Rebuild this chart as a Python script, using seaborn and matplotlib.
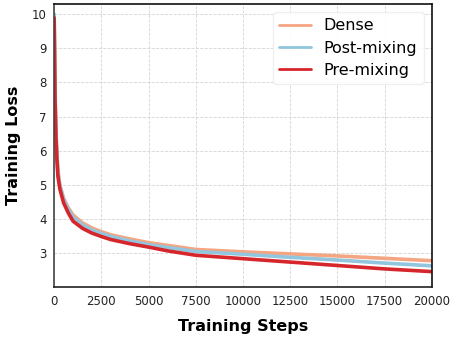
import numpy as np
import pandas as pd
import matplotlib
matplotlib.use('Agg')
import matplotlib.pyplot as plt
import seaborn as sns

# 训练步数及对应损失
steps = [0, 50, 100, 150, 200, 300, 500, 750, 1000, 1500, 2000, 2500, 3000,
         4000, 5000, 6000, 7500, 10000, 12500, 15000, 17500, 20000]
dense = [10.0, 7.6, 6.5, 5.9, 5.4, 5.0, 4.6, 4.32, 4.11, 3.88, 3.73, 3.62, 3.53,
         3.41, 3.30, 3.22, 3.10, 3.03, 2.97, 2.91, 2.84, 2.77]
post_mixing = [10.0, 7.55, 6.45, 5.85, 5.35, 4.97, 4.56, 4.27, 4.05, 3.82, 3.67, 3.57, 3.48,
               3.35, 3.24, 3.16, 3.04, 2.96, 2.87, 2.79, 2.70, 2.62]
pre_mixing = [9.9, 7.4, 6.3, 5.7, 5.25, 4.88, 4.47, 4.17, 3.93, 3.72, 3.58, 3.48, 3.39,
              3.27, 3.17, 3.06, 2.93, 2.83, 2.73, 2.63, 2.53, 2.45]
labels = ['Dense', 'Post-mixing', 'Pre-mixing']
colors = ['#f4a582', '#92c5de', '#d6262b']

df = pd.DataFrame({
    'step': steps * 3,
    'loss': dense + post_mixing + pre_mixing,
    'model': [labels[0]] * len(steps) + [labels[1]] * len(steps) + [labels[2]] * len(steps),
})

sns.set_style('white')
plt.rcParams['font.family'] = ['DejaVu Sans']

fig = plt.figure(figsize=(4.55, 3.38), dpi=100)
ax = fig.add_axes([0.119, 0.151, 0.83, 0.837])

sns.lineplot(data=df, x='step', y='loss', hue='model', hue_order=labels,
             palette=colors, linewidth=2.6, ax=ax)

ax.set_xlim(0, 20000)
ax.set_ylim(2.0, 10.3)
ax.set_xticks([0, 2500, 5000, 7500, 10000, 12500, 15000, 17500, 20000])
ax.set_yticks([3, 4, 5, 6, 7, 8, 9, 10])
ax.tick_params(axis='both', labelsize=8.5, length=2, width=0.8, colors='#222222')
ax.grid(True, linestyle='--', linewidth=0.6, color='#d5d5d5')

for name, sp in ax.spines.items():
    sp.set_linewidth(1.2)
    sp.set_color('#111111')
ax.spines['left'].set_color('#444444')
ax.spines['bottom'].set_color('#222222')

ax.set_xlabel('Training Steps', fontsize=11.5, fontweight='bold', labelpad=8, color='black')
ax.set_ylabel('Training Loss', fontsize=11.5, fontweight='bold', labelpad=8, color='black')

leg = ax.legend(loc='upper right', fontsize=11.5, frameon=True, framealpha=0.9,
                edgecolor='#eeeeee', handlelength=2.0, borderpad=0.4,
                labelspacing=0.45, handletextpad=0.8)
for line in leg.get_lines():
    line.set_linewidth(2)
for t in leg.get_texts():
    t.set_color('black')

fig.savefig('out.png', dpi=100)
